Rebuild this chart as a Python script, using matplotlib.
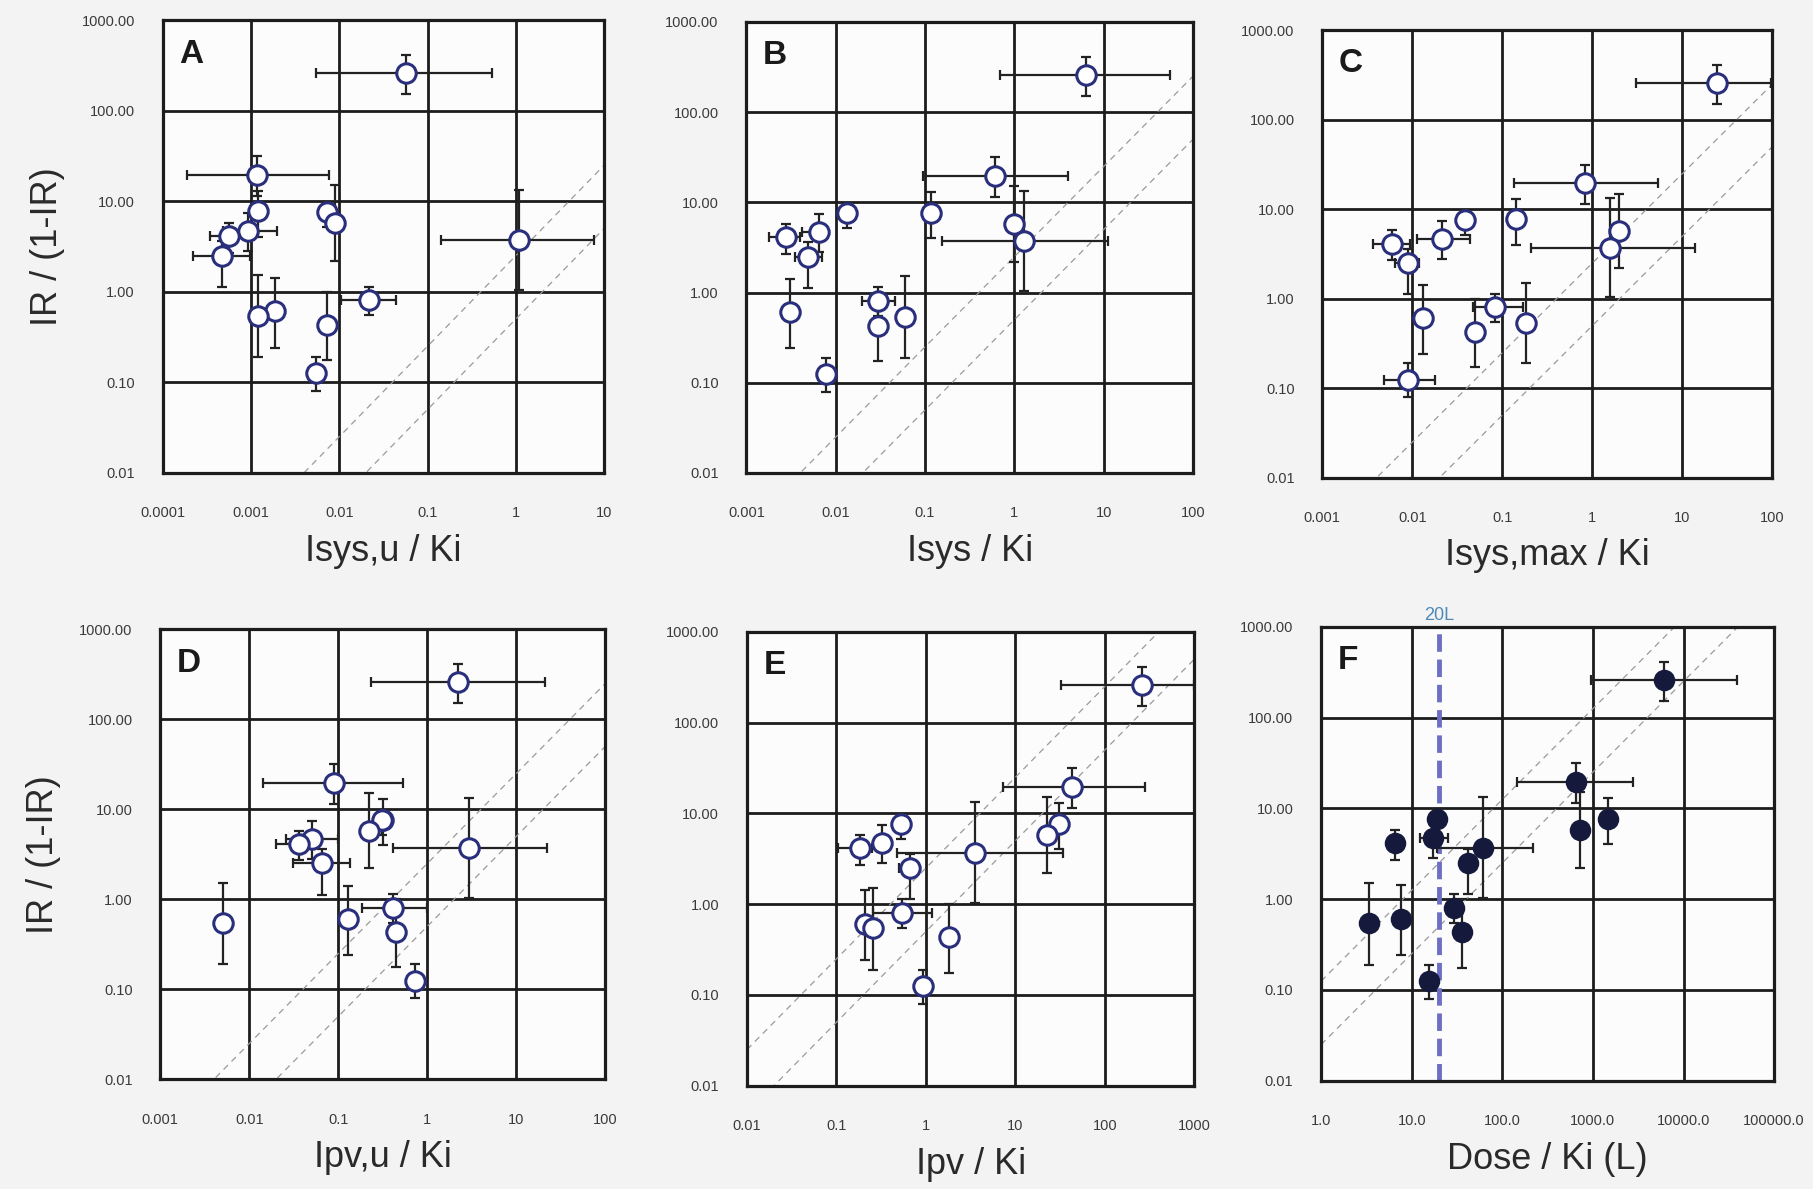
import numpy as np
import matplotlib
matplotlib.use("Agg")
from matplotlib import pyplot as plt
from matplotlib.ticker import NullLocator

plt.rcParams["font.family"] = ["Liberation Sans", "DejaVu Sans"]

n = np.nan

# IR / (1-IR) for the 14 drugs (same in every panel) and the ends of its error bar
ir = [260, 19.7, 7.7, 7.6, 5.7, 3.7, 4.7, 4.1, 2.5, 0.61, 0.125, 0.8, 0.43, 0.54]
ir_lo = [152, 11.5, 4.0, 5.2, 2.2, 1.04, 2.8, 2.7, 1.13, 0.24, 0.08, 0.55, 0.175, 0.19]
ir_hi = [412, 31.5, 13.1, 9.9, 15.0, 13.3, 7.4, 5.8, 3.6, 1.42, 0.19, 1.14, 1.0, 1.52]

# A: Isys,u / Ki
a_x = [0.057, 0.00118, 0.00121, 0.0072, 0.0089, 1.09, 0.00093, 0.00057, 0.00047, 0.00187, 0.0055, 0.0217, 0.0072, 0.00121]
a_lo = [0.0054, 0.00019, n, n, n, 0.143, 0.00048, 0.00034, 0.00022, n, n, 0.0105, n, n]
a_hi = [0.54, 0.0076, n, n, n, 7.7, 0.00197, 0.0009, 0.00097, n, n, 0.044, n, n]

# B: Isys / Ki
b_x = [6.4, 0.6, 0.117, 0.0133, 0.98, 1.29, 0.0065, 0.0028, 0.0049, 0.0031, 0.0078, 0.0295, 0.0295, 0.0597]
b_lo = [0.685, 0.096, n, 0.011, n, 0.155, 0.0042, 0.0018, 0.0035, n, n, 0.0195, n, n]
b_hi = [55.8, 3.98, n, 0.016, n, 11.2, 0.0079, 0.004, 0.0071, n, n, 0.046, n, n]

# C: Isys,max / Ki
c_x = [24.2, 0.82, 0.143, 0.0386, 1.96, 1.57, 0.0212, 0.0059, 0.009, 0.0132, 0.009, 0.083, 0.05, 0.183]
c_lo = [3.08, 0.136, n, n, n, 0.21, 0.0112, 0.0037, 0.0064, n, 0.0048, 0.047, n, n]
c_hi = [97, 5.36, n, n, n, 13.9, 0.0438, 0.0094, 0.012, n, 0.0179, 0.17, n, n]

# D: Ipv,u / Ki
d_x = [2.19, 0.09, 0.32, 0.31, 0.223, 2.96, 0.05, 0.0365, 0.065, 0.129, 0.73, 0.415, 0.445, 0.005]
d_lo = [0.234, 0.0144, n, n, n, 0.41, 0.026, 0.02, 0.031, n, n, 0.183, n, n]
d_hi = [21, 0.53, n, n, n, 22.4, 0.1, 0.055, 0.135, n, n, 0.98, n, n]

# E: Ipv / Ki
e_x = [258, 42.8, 30.8, 0.526, 22.7, 3.5, 0.32, 0.183, 0.66, 0.208, 0.93, 0.535, 1.82, 0.258]
e_lo = [32, 7.3, n, n, n, 0.47, n, 0.105, 0.5, n, n, 0.258, n, n]
e_hi = [1000, 277, n, n, n, 33.6, n, 0.25, 0.72, n, n, 1.16, n, n]

# F: Dose / Ki (L)
f_x = [6100, 656, 1466, 18.9, 725, 60.8, 17.1, 6.5, 42, 7.6, 15.7, 29.5, 35.6, 3.4]
f_lo = [951, 145, n, n, n, 18.9, 12.3, n, n, n, n, n, n, n]
f_hi = [39300, 2790, n, n, n, 220, 25.4, n, n, n, n, n, n, n]

letters = ["A", "B", "C", "D", "E", "F"]
xlabels = ["Isys,u / Ki", "Isys / Ki", "Isys,max / Ki", "Ipv,u / Ki", "Ipv / Ki", "Dose / Ki (L)"]
xticks = [
    [1e-4, 1e-3, 1e-2, 1e-1, 1, 10],
    [1e-3, 1e-2, 1e-1, 1, 10, 100],
    [1e-3, 1e-2, 1e-1, 1, 10, 100],
    [1e-3, 1e-2, 1e-1, 1, 10, 100],
    [1e-2, 1e-1, 1, 10, 100, 1000],
    [1, 10, 100, 1000, 1e4, 1e5],
]
xticklabels = [
    ["0.0001", "0.001", "0.01", "0.1", "1", "10"],
    ["0.001", "0.01", "0.1", "1", "10", "100"],
    ["0.001", "0.01", "0.1", "1", "10", "100"],
    ["0.001", "0.01", "0.1", "1", "10", "100"],
    ["0.01", "0.1", "1", "10", "100", "1000"],
    ["1.0", "10.0", "100.0", "1000.0", "10000.0", "100000.0"],
]
yticks = [0.01, 0.1, 1, 10, 100, 1000]
yticklabels = ["0.01", "0.10", "1.00", "10.00", "100.00", "1000.00"]
fold = [2.5, 0.5]          # dashed reference lines y = k * x
vol = 20.0                 # 20 L, divides the dose in panel F

panels = [(a_x, a_lo, a_hi), (b_x, b_lo, b_hi), (c_x, c_lo, c_hi),
          (d_x, d_lo, d_hi), (e_x, e_lo, e_hi), (f_x, f_lo, f_hi)]

W, H = 1813, 1189
# axes box in pixels: left, right, top, bottom
boxes = [(162.7, 604.2, 20.2, 472.7), (746.4, 1193, 21.9, 473), (1322.3, 1772.3, 30.3, 477.8),
         (160.3, 605.3, 629.3, 1079.3), (747, 1194.5, 631.7, 1085.7), (1321.1, 1774.1, 626.7, 1080.7)]

fig = plt.figure(figsize=(W / 100, H / 100), dpi=100, facecolor="#f3f3f3")

y = np.array(ir)
ylo = np.array(ir_lo)
yhi = np.array(ir_hi)

for i, (px, plo, phi) in enumerate(panels):
    l, r, t, b = boxes[i]
    ax = fig.add_axes([l / W, 1 - b / H, (r - l) / W, (b - t) / H])
    ax.set_facecolor("#fcfcfc")
    ax.set_xscale("log")
    ax.set_yscale("log")
    ax.set_xlim(xticks[i][0], xticks[i][-1])
    ax.set_ylim(yticks[0], yticks[-1])
    ax.set_xticks(xticks[i])
    ax.set_xticklabels(xticklabels[i])
    ax.set_yticks(yticks)
    ax.set_yticklabels(yticklabels)
    ax.xaxis.set_minor_locator(NullLocator())
    ax.yaxis.set_minor_locator(NullLocator())
    ax.tick_params(length=0, labelsize=10.5, labelcolor="#3a3a3a")
    ax.tick_params(axis="x", pad=24)
    ax.tick_params(axis="y", pad=20)
    ax.grid(True, color="#1c1c1c", lw=2.0)
    ax.set_axisbelow(True)
    for s in ax.spines.values():
        s.set_color("#1c1c1c")
        s.set_linewidth(2.3)

    # fold lines
    xx = np.array([xticks[i][0], xticks[i][-1]])
    scale = 1 / vol if i == 5 else 1
    for k in fold:
        ax.plot(xx, k * scale * xx, ls=(0, (5, 4)), color="#9a9a9a", lw=0.9, zorder=1.5)

    x = np.array(px)
    xlo = np.array(plo)
    xhi = np.array(phi)
    m = ~np.isnan(xlo)
    ax.errorbar(x[m], y[m], xerr=[x[m] - xlo[m], xhi[m] - x[m]], fmt="none",
                ecolor="#222222", elinewidth=1.6, capsize=3.5, capthick=1.6, zorder=2.5)
    ax.errorbar(x, y, yerr=[y - ylo, yhi - y], fmt="none",
                ecolor="#222222", elinewidth=1.6, capsize=3.5, capthick=1.6, zorder=2.6)
    if i == 5:
        ax.axvline(vol, color="#6d6fc4", lw=3.5, ls=(0, (3.6, 1.6)), zorder=2.2)
        ax.text(vol, 1080, "20L", color="#4f88b8", fontsize=13, ha="center", va="bottom")
        ax.plot(x, y, "o", ms=14, mfc="#151a3c", mec="#151a3c", mew=1.5, zorder=4)
    else:
        ax.plot(x, y, "o", ms=14, mfc="white", mec="#2a2f7c", mew=2.2, zorder=4)

    ax.text(0.037, 0.925, letters[i], transform=ax.transAxes, fontsize=24,
            fontweight="bold", color="#1a1a1a", ha="left", va="center")
    ax.set_xlabel(xlabels[i], fontsize=26, color="#2a2a2a")
    ax.xaxis.set_label_coords(0.5, -0.135)
    if i in (0, 3):
        ax.text(-0.262, 0.5, "IR / (1-IR)", transform=ax.transAxes, rotation=90,
                fontsize=26, color="#2a2a2a", ha="center", va="center")

fig.savefig("out.png", dpi=100, facecolor=fig.get_facecolor())
